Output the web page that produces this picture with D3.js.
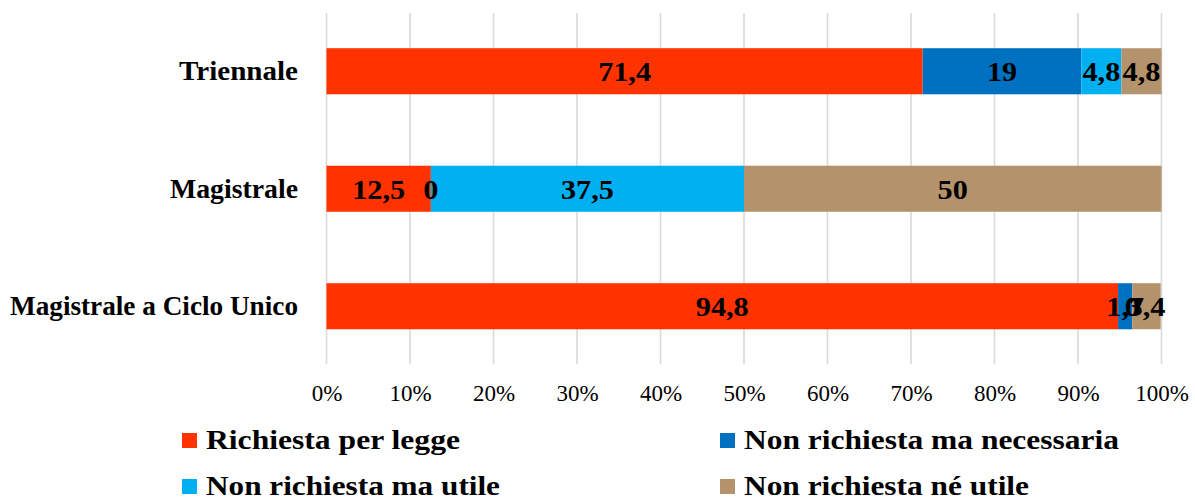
<!DOCTYPE html>
<html>
<head>
<meta charset="utf-8">
<script src="https://cdn.jsdelivr.net/npm/d3@7"></script>
<style>
  html, body { margin: 0; padding: 0; background: #ffffff; }
  svg { display: block; }
</style>
</head>
<body>
<svg id="chart" width="1195" height="499"></svg>
<script>
// Degree types (top to bottom)
const categories = ["Triennale", "Magistrale", "Magistrale a Ciclo Unico"];

// Series (percentages per degree type)
const seriesNames = [
  "Richiesta per legge",
  "Non richiesta ma necessaria",
  "Non richiesta ma utile",
  "Non richiesta né utile"
];
const richiestaPerLegge       = [71.4, 12.5, 94.8];
const nonRichiestaNecessaria  = [19,   0,    1.7];
const nonRichiestaUtile       = [4.8,  37.5, 0];
const nonRichiestaNeUtile     = [4.8,  50,   3.4];

const seriesValues = [richiestaPerLegge, nonRichiestaNecessaria, nonRichiestaUtile, nonRichiestaNeUtile];
const seriesColors = ["#FF3300", "#0070C0", "#00B0F0", "#B4926C"];

// Axis tick values (percent)
const tickValues = [0, 10, 20, 30, 40, 50, 60, 70, 80, 90, 100];

// Rendered text widths, so the serif face keeps the wider Cambria-like set
const categoryTextWidths = [119, 128, 288];
const legendTextWidths = [254, 375, 294, 285];

const serif = "'Liberation Serif', 'Times New Roman', serif";

const svg = d3.select("#chart");

const x = d3.scaleLinear().domain([0, 100]).range([326.5, 1161.5]);
const y = d3.scaleBand().domain(categories).range([12.5, 365])
  .paddingInner(0.608).paddingOuter(0.304);

// Vertical gridlines
svg.append("g").selectAll("line")
  .data(tickValues)
  .join("line")
  .attr("x1", d => x(d)).attr("x2", d => x(d))
  .attr("y1", 13).attr("y2", 364)
  .attr("stroke", "#d9d9d9")
  .attr("stroke-width", 1.6);

// Tick labels via axis
const axis = d3.axisBottom(x)
  .tickValues(tickValues)
  .tickFormat(d => d + "%")
  .tickSize(0)
  .tickPadding(0);
const axisG = svg.append("g").attr("transform", "translate(0,383)").call(axis);
axisG.select(".domain").remove();
axisG.selectAll("text")
  .attr("font-family", serif)
  .attr("font-size", 23)
  .attr("fill", "#000")
  .attr("dy", "0.8em");

// Stack layout
const rows = categories.map((c, i) => {
  const r = { cat: c };
  seriesNames.forEach((s, j) => { r[s] = seriesValues[j][i]; });
  return r;
});
const stacked = d3.stack().keys(seriesNames)(rows);

const layers = svg.append("g").selectAll("g")
  .data(stacked)
  .join("g")
  .attr("fill", (d, i) => seriesColors[i]);

layers.selectAll("rect")
  .data(d => d)
  .join("rect")
  .attr("x", d => x(d[0]))
  .attr("width", d => x(d[1]) - x(d[0]))
  .attr("y", d => y(d.data.cat))
  .attr("height", y.bandwidth());

// Value labels
const labels = svg.append("g");
stacked.forEach(layer => {
  labels.selectAll(null)
    .data(layer)
    .join("text")
    .attr("x", d => x((d[0] + d[1]) / 2))
    .attr("y", d => y(d.data.cat) + y.bandwidth() / 2)
    .attr("dy", "0.35em")
    .attr("text-anchor", "middle")
    .attr("font-family", serif)
    .attr("font-weight", "bold")
    .attr("font-size", 28)
    .attr("fill", "#000")
    .attr("transform", d => {
      const cx = x((d[0] + d[1]) / 2);
      return `translate(${cx},0) scale(1.08,1) translate(${-cx},0)`;
    })
    .text(d => String(d.data[layer.key]).replace(".", ","));
});

// Category labels
svg.append("g").selectAll("text")
  .data(categories)
  .join("text")
  .attr("x", 298)
  .attr("y", d => y(d) + y.bandwidth() / 2)
  .attr("dy", "0.33em")
  .attr("text-anchor", "end")
  .attr("font-family", serif)
  .attr("font-weight", "bold")
  .attr("font-size", 27)
  .attr("fill", "#000")
  .attr("textLength", (d, i) => categoryTextWidths[i])
  .attr("lengthAdjust", "spacingAndGlyphs")
  .text(d => d);

// Legend (2 x 2)
const legendPos = [[182, 441], [720, 441], [182, 487], [720, 487]];
const legend = svg.append("g").selectAll("g")
  .data(seriesNames)
  .join("g")
  .attr("transform", (d, i) => `translate(${legendPos[i][0]},${legendPos[i][1]})`);
legend.append("rect")
  .attr("x", 0).attr("y", -8)
  .attr("width", 15).attr("height", 15)
  .attr("fill", (d, i) => seriesColors[i]);
legend.append("text")
  .attr("x", 24).attr("y", 0)
  .attr("dy", "0.31em")
  .attr("font-family", serif)
  .attr("font-weight", "bold")
  .attr("font-size", 27)
  .attr("fill", "#000")
  .attr("textLength", (d, i) => legendTextWidths[i])
  .attr("lengthAdjust", "spacingAndGlyphs")
  .text(d => d);
</script>
</body>
</html>
